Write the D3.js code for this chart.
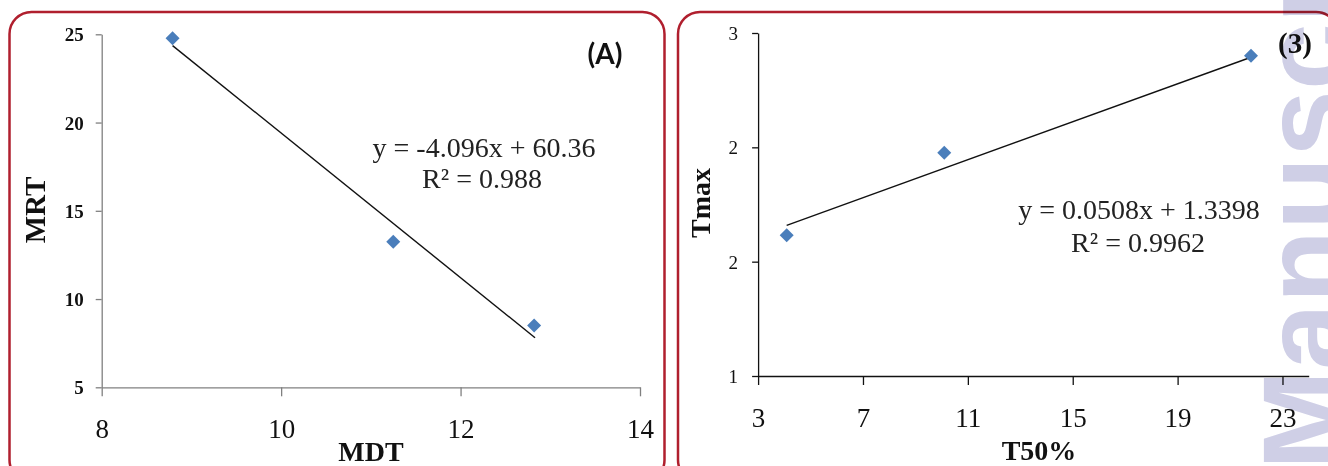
<!DOCTYPE html>
<html><head><meta charset="utf-8">
<script src="https://cdn.jsdelivr.net/npm/d3@7/dist/d3.min.js"></script>
<style>body{margin:0;background:#fff}svg{display:block}</style>
</head><body>
<script>
// Panel A data (MDT vs MRT)
const mdt = [8.79, 11.25, 12.82];
const mrt = [24.77, 13.25, 8.5];
const trendA = [[8.79, 24.36], [12.83, 7.81]];
const ticksAX = [8, 10, 12, 14];
const ticksAY = [5, 10, 15, 20, 25];
const eqA = ["y = -4.096x + 60.36", "R\u00B2 = 0.988"];

// Panel B data (T50% vs Tmax)
const t50 = [4.09, 10.10, 21.80];
const tmax = [1.616, 1.976, 2.40];
const trendB = [[4.09, 1.659], [21.80, 2.394]];
const ticksBX = [3, 7, 11, 15, 19, 23];
const ticksBY = [1, 1.5, 2, 2.5];
const ticksBYLabels = ["1", "2", "2", "3"];
const eqB = ["y = 0.0508x + 1.3398", "R\u00B2 = 0.9962"];

const W = 1328, H = 466;
const svg = d3.select("body").append("svg").attr("width", W).attr("height", H);
svg.append("rect").attr("width", W).attr("height", H).attr("fill", "#fff");
const serif = "'Liberation Serif','Times New Roman',serif";
const blue = "#4a7ebb";

// frames
svg.append("rect").attr("x", 9.5).attr("y", 12).attr("width", 655).attr("height", 470)
  .attr("rx", 22).attr("fill", "none").attr("stroke", "#b01f2e").attr("stroke-width", 2.5);
svg.append("rect").attr("x", 678).attr("y", 12).attr("width", 660).attr("height", 470)
  .attr("rx", 22).attr("fill", "none").attr("stroke", "#b01f2e").attr("stroke-width", 2.5);

const diamondPath = "M0,-7L7,0L0,7L-7,0Z";
function diamond(g, xs, ys, x, y) {
  g.selectAll("path.pt").data(xs).join("path").attr("class", "pt")
    .attr("d", diamondPath)
    .attr("transform", (d, i) => `translate(${x(d)},${y(ys[i])})`)
    .attr("fill", blue);
}

// ---------- Panel A ----------
{
  const x = d3.scaleLinear().domain([8, 14]).range([101.7, 640]);
  const y = d3.scaleLinear().domain([5, 25]).range([387.3, 34.3]);
  const g = svg.append("g");
  const ax = g.append("g").attr("transform", `translate(0,${y(5)})`)
    .call(d3.axisBottom(x).tickValues(ticksAX).tickSize(9).tickSizeOuter(0).tickFormat(d3.format("d")));
  ax.select(".domain").attr("stroke", "#808080").attr("stroke-width", 1.3);
  ax.selectAll(".tick line").attr("stroke", "#808080").attr("stroke-width", 1.3);
  ax.selectAll("text").attr("font-family", serif).attr("font-size", 27).attr("fill", "#111").attr("dy", null).attr("y", 51);
  const ay = g.append("g").attr("transform", `translate(${x(8)},0)`)
    .call(d3.axisLeft(y).tickValues(ticksAY).tickSize(6).tickSizeOuter(0).tickFormat(d3.format("d")));
  ay.select(".domain").attr("stroke", "#808080").attr("stroke-width", 1.3);
  ay.selectAll(".tick line").attr("stroke", "#808080").attr("stroke-width", 1.3);
  ay.selectAll("text").attr("font-family", serif).attr("font-size", 19).attr("font-weight", "bold")
    .attr("fill", "#111").attr("x", -18).attr("dy", "0.34em");
  g.append("line").attr("x1", x(trendA[0][0])).attr("y1", y(trendA[0][1]))
    .attr("x2", x(trendA[1][0])).attr("y2", y(trendA[1][1])).attr("stroke", "#111").attr("stroke-width", 1.4);
  diamond(g, mdt, mrt, x, y);
  g.append("text").attr("x", 484).attr("y", 157).attr("text-anchor", "middle").attr("font-family", serif)
    .attr("font-size", 28).attr("fill", "#222").text(eqA[0]);
  g.append("text").attr("x", 482).attr("y", 188).attr("text-anchor", "middle").attr("font-family", serif)
    .attr("font-size", 28).attr("fill", "#222").text(eqA[1]);
  g.append("text").attr("x", 605).attr("y", 64).attr("text-anchor", "middle").attr("font-family", "Lato, 'Open Sans', sans-serif")
    .attr("font-weight", "bold").attr("font-size", 28).attr("fill", "#111").text("(A)");
  g.append("text").attr("x", 371).attr("y", 461).attr("text-anchor", "middle").attr("font-family", serif)
    .attr("font-weight", "bold").attr("font-size", 28).attr("fill", "#111").text("MDT");
  g.append("text").attr("transform", "translate(45,210) rotate(-90)").attr("text-anchor", "middle").attr("font-family", serif)
    .attr("font-weight", "bold").attr("font-size", 29).attr("fill", "#111").text("MRT");
}

// ---------- Panel B ----------
{
  const x = d3.scaleLinear().domain([3, 24]).range([758.1, 1308.7]);
  const y = d3.scaleLinear().domain([1, 2.5]).range([376, 33]);
  const g = svg.append("g");
  const ax = g.append("g").attr("transform", `translate(0,${y(1)})`)
    .call(d3.axisBottom(x).tickValues(ticksBX).tickSize(9).tickSizeOuter(0).tickFormat(d3.format("d")));
  ax.select(".domain").attr("stroke", "#111").attr("stroke-width", 1.3);
  ax.selectAll(".tick line").attr("stroke", "#111").attr("stroke-width", 1.3);
  ax.selectAll("text").attr("font-family", serif).attr("font-size", 27).attr("fill", "#111").attr("dy", null).attr("y", 51);
  const ay = g.append("g").attr("transform", `translate(${x(3)},0)`)
    .call(d3.axisLeft(y).tickValues(ticksBY).tickSize(6).tickSizeOuter(0).tickFormat((d, i) => ticksBYLabels[i]));
  ay.select(".domain").attr("stroke", "#111").attr("stroke-width", 1.3);
  ay.selectAll(".tick line").attr("stroke", "#111").attr("stroke-width", 1.3);
  ay.selectAll("text").attr("font-family", serif).attr("font-size", 19)
    .attr("fill", "#111").attr("x", -20).attr("dy", "0.34em");
  g.append("line").attr("x1", x(trendB[0][0])).attr("y1", y(trendB[0][1]))
    .attr("x2", x(trendB[1][0])).attr("y2", y(trendB[1][1])).attr("stroke", "#111").attr("stroke-width", 1.4);
  diamond(g, t50, tmax, x, y);
  g.append("text").attr("x", 1139).attr("y", 219).attr("text-anchor", "middle").attr("font-family", serif)
    .attr("font-size", 28).attr("fill", "#222").text(eqB[0]);
  g.append("text").attr("x", 1138).attr("y", 252).attr("text-anchor", "middle").attr("font-family", serif)
    .attr("font-size", 28).attr("fill", "#222").text(eqB[1]);
  g.append("text").attr("x", 1039).attr("y", 460).attr("text-anchor", "middle").attr("font-family", serif)
    .attr("font-weight", "bold").attr("font-size", 28).attr("fill", "#111").text("T50%");
  g.append("text").attr("transform", "translate(710,203) rotate(-90)").attr("text-anchor", "middle").attr("font-family", serif)
    .attr("font-weight", "bold").attr("font-size", 28).attr("fill", "#111").text("Tmax");
  g.append("text").attr("x", 1295).attr("y", 53).attr("text-anchor", "middle").attr("font-family", serif)
    .attr("font-weight", "bold").attr("font-size", 29).attr("fill", "#111").text("(3)");
}

// watermark
svg.append("text").attr("transform", "translate(1347,470) rotate(-90)")
  .attr("font-family", "'Liberation Sans', Arial, sans-serif").attr("font-weight", "bold")
  .attr("font-size", 120).attr("fill", "#cfcfe6").style("mix-blend-mode", "multiply")
  .text("Manuscri");
</script>
</body></html>
